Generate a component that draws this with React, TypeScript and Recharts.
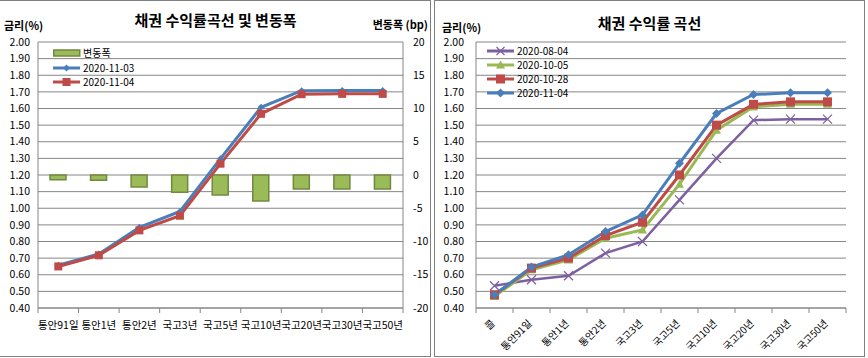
import React from 'react';
import { ComposedChart, LineChart, Bar, Line, XAxis, YAxis, CartesianGrid } from 'recharts';

const FONT = '"Noto Sans CJK KR", "Noto Sans", sans-serif';
const GRID = '#868686';
const BLUE = '#4A7EBB';
const RED = '#BE4B48';
const GREEN = '#98B954';
const PURPLE = '#7D60A0';

// 왼쪽: 수익률곡선 및 변동폭
const tenorsLeft = ['통안91일', '통안1년', '통안2년', '국고3년', '국고5년', '국고10년', '국고20년', '국고30년', '국고50년'];
const yield1103 = [0.657, 0.725, 0.885, 0.981, 1.298, 1.607, 1.707, 1.709, 1.709];
const yield1104 = [0.65, 0.717, 0.867, 0.955, 1.268, 1.568, 1.686, 1.688, 1.688];
const changeBp = [-0.7, -0.8, -1.8, -2.6, -3.0, -3.9, -2.1, -2.1, -2.1];

// 오른쪽: 수익률 곡선
const tenorsRight = ['콜', '통안91일', '통안1년', '통안2년', '국고3년', '국고5년', '국고10년', '국고20년', '국고30년', '국고50년'];
const yield0804 = [0.534, 0.57, 0.594, 0.73, 0.8, 1.05, 1.3, 1.53, 1.536, 1.536];
const yield1005 = [0.47, 0.63, 0.69, 0.82, 0.87, 1.145, 1.47, 1.61, 1.626, 1.626];
const yield1028 = [0.48, 0.64, 0.7, 0.836, 0.916, 1.2, 1.5, 1.625, 1.64, 1.64];
const yield1104R = [0.48, 0.646, 0.72, 0.86, 0.96, 1.27, 1.57, 1.684, 1.694, 1.694];

const rateTicks = [0.4, 0.5, 0.6, 0.7, 0.8, 0.9, 1.0, 1.1, 1.2, 1.3, 1.4, 1.5, 1.6, 1.7, 1.8, 1.9, 2.0];
const bpTicks = [-20, -15, -10, -5, 0, 5, 10, 15, 20];

const leftData = tenorsLeft.map((name, i) => ({
  name,
  change: changeBp[i],
  d1103: yield1103[i],
  d1104: yield1104[i],
}));

const rightData = tenorsRight.map((name, i) => ({
  name,
  d0804: yield0804[i],
  d1005: yield1005[i],
  d1028: yield1028[i],
  d1104: yield1104R[i],
}));

// markers
const diamond = (cx: number, cy: number, r: number, fill: string, key?: any) => (
  <path key={key} d={`M${cx},${cy - r}L${cx + r},${cy}L${cx},${cy + r}L${cx - r},${cy}Z`} fill={fill} />
);
const square = (cx: number, cy: number, r: number, fill: string, key?: any) => (
  <rect key={key} x={cx - r} y={cy - r} width={r * 2} height={r * 2} fill={fill} />
);
const triangle = (cx: number, cy: number, r: number, fill: string, key?: any) => (
  <path key={key} d={`M${cx},${cy - r}L${cx + r},${cy + r * 0.8}L${cx - r},${cy + r * 0.8}Z`} fill={fill} />
);
const cross = (cx: number, cy: number, r: number, fill: string, key?: any) => (
  <path key={key} d={`M${cx - r},${cy - r}L${cx + r},${cy + r}M${cx - r},${cy + r}L${cx + r},${cy - r}`} stroke={fill} strokeWidth={1.2} fill="none" />
);

const dotOf = (shape: typeof square, r: number, fill: string) => (p: any) =>
  p.cx == null || p.cy == null ? <g key={p.index} /> : shape(p.cx, p.cy, r, fill, p.index);

const bandHalf = (props: any, fallback: number) => {
  const w = typeof props.width === 'number' ? props.width : fallback;
  const n = props.visibleTicksCount || 1;
  return w / n / 2;
};

const FlatTick = (props: any) => {
  const { x, y, payload, index, visibleTicksCount } = props;
  const half = bandHalf(props, 365);
  return (
    <g>
      <line x1={x - half} x2={x - half} y1={y} y2={y + 5} stroke={GRID} />
      {index === visibleTicksCount - 1 && <line x1={x + half} x2={x + half} y1={y} y2={y + 5} stroke={GRID} />}
      <text x={x} y={y + 21} textAnchor="middle" fontSize={10.5} fontFamily={FONT} fill="#000">
        {payload.value}
      </text>
    </g>
  );
};

const SlantTick = (props: any) => {
  const { x, y, payload, index, visibleTicksCount } = props;
  const half = bandHalf(props, 370);
  const ax = x + 1;
  const ay = y + 16;
  return (
    <g>
      <line x1={x - half} x2={x - half} y1={y} y2={y + 5} stroke={GRID} />
      {index === visibleTicksCount - 1 && <line x1={x + half} x2={x + half} y1={y} y2={y + 5} stroke={GRID} />}
      <text x={ax} y={ay} transform={`rotate(-45 ${ax} ${ay})`} textAnchor="end" fontSize={10} fontFamily={FONT} fill="#000">
        {payload.value}
      </text>
    </g>
  );
};

const tickStyle = { fontSize: 10.5, fontFamily: FONT, fill: '#000' };

const LegendRow = ({ y, x, label, symbol }: { y: number; x: number; label: string; symbol: React.ReactNode }) => (
  <div style={{ position: 'absolute', left: x, top: y - 6, height: 12, display: 'flex', alignItems: 'center' }}>
    <svg width={30} height={12} style={{ display: 'block' }}>{symbol}</svg>
    <span style={{ fontSize: 10, fontFamily: FONT, color: '#000', lineHeight: '12px', whiteSpace: 'nowrap' }}>{label}</span>
  </div>
);

const lineSym = (color: string, marker: React.ReactNode) => (
  <g>
    <line x1={0} x2={27} y1={6} y2={6} stroke={color} strokeWidth={3} />
    {marker}
  </g>
);

const label = (style: React.CSSProperties, text: string) => (
  <div style={{ position: 'absolute', fontFamily: FONT, color: '#000', whiteSpace: 'nowrap', ...style }}>{text}</div>
);

export default function App() {
  return (
    <div style={{ position: 'absolute', left: 0, top: 0, width: 868, height: 358, background: '#fff', overflow: 'hidden' }}>
      {/* frames */}
      <div style={{ position: 'absolute', left: -1, top: 0, width: 432, height: 357, border: '1px solid #808080', boxSizing: 'border-box' }} />
      <div style={{ position: 'absolute', left: 434, top: 0, width: 431, height: 357, border: '1px solid #808080', boxSizing: 'border-box' }} />

      {/* left chart */}
      <div style={{ position: 'absolute', left: 0, top: 0 }}>
        <ComposedChart width={431} height={357} data={leftData} margin={{ top: 42, right: 0, bottom: 0, left: 0 }}>
          <CartesianGrid yAxisId="rate" vertical={false} stroke={GRID} />
          <XAxis dataKey="name" height={49} axisLine={{ stroke: GRID }} tickLine={false} tickSize={0} tickMargin={0} tick={<FlatTick />} interval={0} />
          <YAxis yAxisId="rate" orientation="left" width={38} domain={[0.4, 2.0]} ticks={rateTicks} tickFormatter={(v: number) => v.toFixed(2)} axisLine={{ stroke: GRID }} tickLine={false} tickSize={0} tickMargin={8} tick={tickStyle} interval={0} />
          <YAxis yAxisId="bp" orientation="right" width={28} domain={[-20, 20]} ticks={bpTicks} axisLine={{ stroke: GRID }} tickLine={false} tickSize={0} tickMargin={10} tick={tickStyle} interval={0} />
          <Bar yAxisId="bp" dataKey="change" fill="#9BBB59" stroke="#71893F" strokeWidth={1.5} barSize={16} isAnimationActive={false} />
          <Line yAxisId="rate" dataKey="d1103" stroke={BLUE} strokeWidth={3} dot={dotOf(diamond, 3.5, BLUE)} activeDot={false} isAnimationActive={false} />
          <Line yAxisId="rate" dataKey="d1104" stroke={RED} strokeWidth={3} dot={dotOf(square, 4, RED)} activeDot={false} isAnimationActive={false} />
        </ComposedChart>
      </div>
      {label({ left: 0, width: 431, top: 10, lineHeight: '20px', fontSize: 15, fontWeight: 'bold', textAlign: 'center' }, '채권 수익률곡선 및 변동폭')}
      {label({ left: 4, top: 19, lineHeight: '12px', fontSize: 11, fontWeight: 'bold' }, '금리(%)')}
      {label({ right: 868 - 428, top: 18, lineHeight: '12px', fontSize: 11, fontWeight: 'bold' }, '변동폭 (bp)')}
      <LegendRow x={53} y={53} label="변동폭" symbol={<rect x={0.75} y={3} width={26} height={6} fill="#9BBB59" stroke="#71893F" strokeWidth={1.5} />} />
      <LegendRow x={53} y={68} label="2020-11-03" symbol={lineSym(BLUE, diamond(13.5, 6, 3.5, BLUE))} />
      <LegendRow x={53} y={82} label="2020-11-04" symbol={lineSym(RED, square(13.5, 6, 4, RED))} />

      {/* right chart */}
      <div style={{ position: 'absolute', left: 434, top: 0 }}>
        <LineChart width={431} height={357} data={rightData} margin={{ top: 42, right: 19, bottom: 0, left: 0 }}>
          <CartesianGrid vertical={false} stroke={GRID} />
          <XAxis dataKey="name" scale="band" height={49} axisLine={{ stroke: GRID }} tickLine={false} tickSize={0} tickMargin={0} tick={<SlantTick />} interval={0} />
          <YAxis width={42} domain={[0.4, 2.0]} ticks={rateTicks} tickFormatter={(v: number) => v.toFixed(2)} axisLine={{ stroke: GRID }} tickLine={false} tickSize={0} tickMargin={12} tick={tickStyle} interval={0} />
          <Line dataKey="d0804" stroke={PURPLE} strokeWidth={2.5} dot={dotOf(cross, 4.5, PURPLE)} activeDot={false} isAnimationActive={false} />
          <Line dataKey="d1005" stroke={GREEN} strokeWidth={3} dot={dotOf(triangle, 4.5, GREEN)} activeDot={false} isAnimationActive={false} />
          <Line dataKey="d1028" stroke={RED} strokeWidth={3} dot={dotOf(square, 4.5, RED)} activeDot={false} isAnimationActive={false} />
          <Line dataKey="d1104" stroke={BLUE} strokeWidth={3} dot={dotOf(diamond, 4.5, BLUE)} activeDot={false} isAnimationActive={false} />
        </LineChart>
      </div>
      {label({ left: 434, width: 431, top: 13, lineHeight: '20px', fontSize: 15, fontWeight: 'bold', textAlign: 'center' }, '채권 수익률 곡선')}
      {label({ left: 442, top: 21, lineHeight: '12px', fontSize: 11, fontWeight: 'bold' }, '금리(%)')}
      <LegendRow x={487} y={51} label="2020-08-04" symbol={lineSym(PURPLE, cross(13.5, 6, 4, PURPLE))} />
      <LegendRow x={487} y={65} label="2020-10-05" symbol={lineSym(GREEN, triangle(13.5, 6, 4.5, GREEN))} />
      <LegendRow x={487} y={79} label="2020-10-28" symbol={lineSym(RED, square(13.5, 6, 4.5, RED))} />
      <LegendRow x={487} y={93} label="2020-11-04" symbol={lineSym(BLUE, diamond(13.5, 6, 4.5, BLUE))} />
    </div>
  );
}
